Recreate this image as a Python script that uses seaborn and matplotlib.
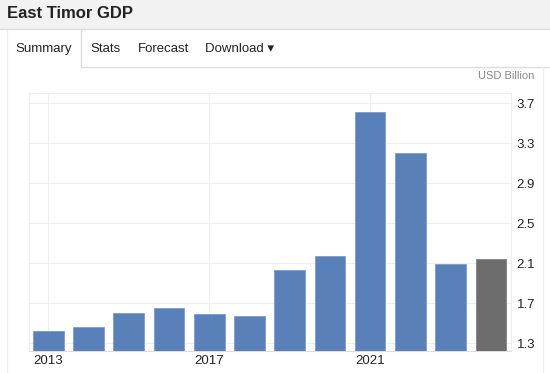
import pandas as pd
import seaborn as sns
import matplotlib.pyplot as plt
from matplotlib.lines import Line2D
from matplotlib.patches import Rectangle

# Dados (USD Billion)
years = ['2013', '2014', '2015', '2016', '2017', '2018',
         '2019', '2020', '2021', '2022', '2023', '2024']
gdp = [1.42, 1.46, 1.60, 1.65, 1.59, 1.57, 2.03, 2.17, 3.61, 3.20, 2.09, 2.14]
bar_colors = ['#5a80b9'] * 11 + ['#6d6d6d']
shown_years = ['2013', '2017', '2021']
y_ticks = [1.3, 1.7, 2.1, 2.5, 2.9, 3.3, 3.7]

df = pd.DataFrame({'year': years, 'gdp': gdp})

sns.set_theme(style='white')
plt.rcParams['font.family'] = ['Liberation Sans', 'DejaVu Sans']

W, H = 550, 373
fig = plt.figure(figsize=(W / 100, H / 100), dpi=100)

def fx(px):
    return px / W

def fy(py):
    return 1 - py / H

# Cabeçalho e abas
fig.patches.append(Rectangle((0, fy(29)), 1, 29 / H, transform=fig.transFigure,
                             facecolor='#f2f2f2', edgecolor='none', zorder=0))
line_kw = dict(transform=fig.transFigure, color='#dddddd', lw=1)
fig.lines.append(Line2D([0, 1], [fy(29), fy(29)], **line_kw))
fig.lines.append(Line2D([fx(81), fx(81)], [fy(30), fy(67)], **line_kw))
fig.lines.append(Line2D([fx(81), 1], [fy(67), fy(67)], **line_kw))
fig.lines.append(Line2D([fx(7), fx(7)], [fy(30), 0], color='#eeeeee', lw=1,
                        transform=fig.transFigure))
fig.lines.append(Line2D([fx(543), fx(543)], [fy(67), 0], color='#eeeeee', lw=1,
                        transform=fig.transFigure))

fig.text(fx(7), fy(14), 'East Timor GDP', fontsize=12, fontweight='bold',
         color='#222222', va='center', ha='left')
for label, x in [('Summary', 15), ('Stats', 90), ('Forecast', 138), ('Download ▾', 205)]:
    fig.text(fx(x), fy(49), label, fontsize=9.5, color='#222222', va='center', ha='left')
fig.text(fx(534), fy(76), 'USD Billion', fontsize=8, color='#888888',
         va='center', ha='right')

# Gráfico de barras
ax = fig.add_axes([fx(29), fy(351), fx(511) - fx(29), (351 - 93.3) / H])
sns.barplot(data=df, x='year', y='gdp', hue='year', palette=bar_colors,
            legend=False, width=0.76, saturation=1, ax=ax,
            edgecolor='#7d9bc8', linewidth=0.6, zorder=3)
ax.patches[-1].set_edgecolor('#808080')

ax.set_xlim(-0.48, 11.5)
ax.set_ylim(1.223, 3.80)
ax.set_yticks(y_ticks)
ax.set_yticklabels([f'{v:.1f}' for v in y_ticks])
ax.yaxis.tick_right()
ax.set_xticks([years.index(y) for y in shown_years])
ax.set_xticklabels(shown_years)
ax.tick_params(axis='both', length=0, labelsize=9.5, labelcolor='#222222')
ax.tick_params(axis='y', pad=4)
ax.tick_params(axis='x', pad=3)
ax.set_xlabel('')
ax.set_ylabel('')
ax.grid(True, color='#eeeeee', lw=0.8, zorder=0)
for s in ax.spines.values():
    s.set_color('#eeeeee')
    s.set_linewidth(0.8)
ax.spines['bottom'].set_color('#dddddd')

plt.savefig('out.png', dpi=100)
plt.close()
